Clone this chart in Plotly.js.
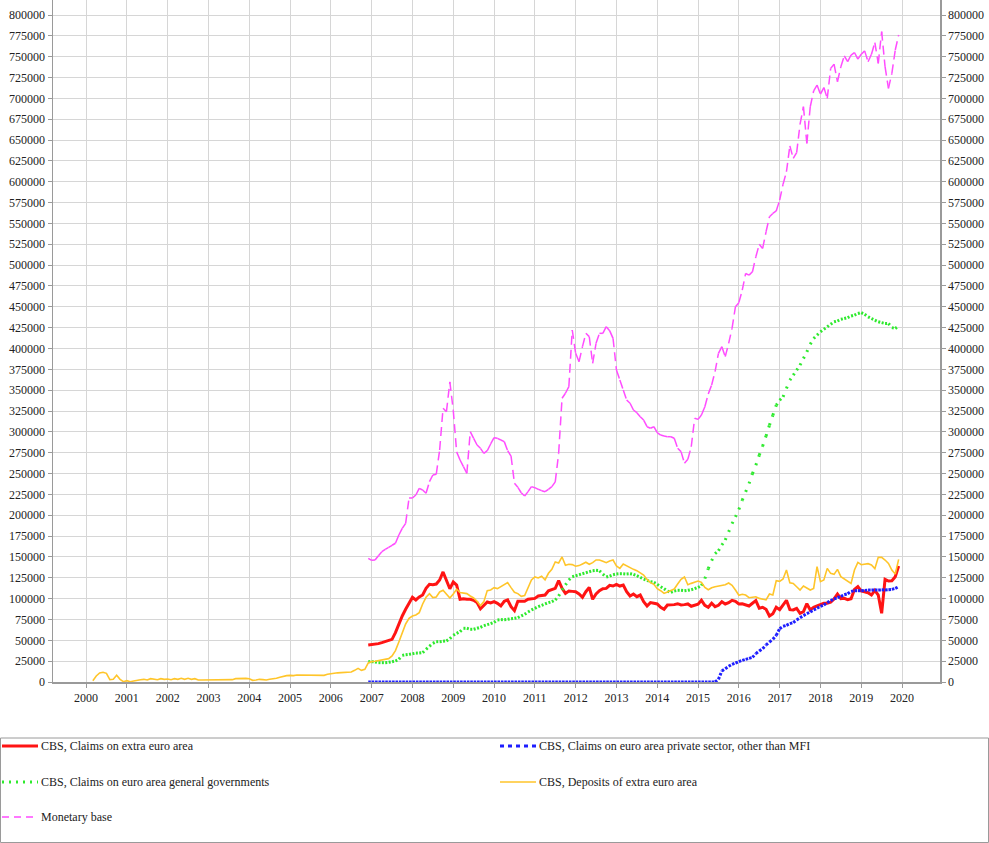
<!DOCTYPE html>
<html><head><meta charset="utf-8">
<script src="https://cdn.plot.ly/plotly-3.0.1.min.js"></script>
<style>html,body{margin:0;padding:0;background:#fff}#chart{width:989px;height:843px}</style>
</head><body><div id="chart"></div>
<script>
// Series names
const nameClaimsExtra = "CBS, Claims on extra euro area";
const namePrivate = "CBS, Claims on euro area private sector, other than MFI";
const nameGov = "CBS, Claims on euro area general governments";
const nameDeposits = "CBS, Deposits of extra euro area";
const nameMonetary = "Monetary base";

// First month [year, month] of each series (monthly data)
const cbsStart = [2006, 12];
const depositsStart = [2000, 3];

// Values in thousands, monthly
const claimsExtra = [
 44.4, 44.8, 45.6, 46, 47.2, 48.4, 50, 51.2, 59.2, 69.6, 79.2, 87.2,
 95.2, 101.6, 98.4, 102, 104.3, 112.3, 117.1, 116.7, 117.5, 122.3, 132, 121.5,
 111.9, 119.9, 116.3, 99.2, 99.9, 99.2, 99.2, 98, 95.2, 87.9, 92.4, 96,
 94.8, 96.3, 94.4, 91.2, 96.8, 98.4, 90.4, 85.6, 96.8, 97.2, 96.8, 99.2,
 99.6, 100.3, 103.1, 103.5, 104.3, 109.5, 111.1, 112.3, 121.5, 112.3, 106.3, 109.1,
 108.7, 108.3, 105.5, 101.6, 108.3, 113.5, 99.2, 105.5, 109.5, 111.9, 112.3, 116,
 115.1, 117.1, 115.1, 116.3, 108.3, 103.1, 105.5, 102.3, 104.3, 96.3, 91.2, 95.2,
 94.4, 93.6, 89.6, 87.2, 92.4, 92.4, 92.8, 93.9, 92.4, 92.8, 93.6, 90.8,
 92.4, 93.2, 98, 92, 89.6, 94.4, 90.4, 92, 96.3, 93.6, 95.2, 98,
 96.8, 93.6, 93.9, 92.8, 91.2, 94.4, 97.6, 88.4, 89.6, 87.2, 79.2, 81.9,
 89.6, 86.8, 92, 98, 86.8, 86.4, 88.4, 82.4, 84.4, 93.9, 86.4, 89.6,
 91.2, 92.4, 94.4, 94.4, 95.6, 99.6, 105.5, 99.9, 100.3, 98.8, 99.9, 111.1,
 114.3, 109.1, 108.3, 107.1, 104.3, 110, 104.3, 82.4, 123.1, 121.1, 121.5, 126.3, 139.1
];
const claimsPrivate = [
 0, 0, 0, 0, 0, 0, 0, 0, 0, 0, 0, 0,
 0, 0, 0, 0, 0, 0, 0, 0, 0, 0, 0, 0,
 0, 0, 0, 0, 0, 0, 0, 0, 0, 0, 0, 0,
 0, 0, 0, 0, 0, 0, 0, 0, 0, 0, 0, 0,
 0, 0, 0, 0, 0, 0, 0, 0, 0, 0, 0, 0,
 0, 0, 0, 0, 0, 0, 0, 0, 0, 0, 0, 0,
 0, 0, 0, 0, 0, 0, 0, 0, 0, 0, 0, 0,
 0, 0, 0, 0, 0, 0, 0, 0, 0, 0, 0, 0,
 0, 0, 0, 0, 0, 0, 0, 3.2, 13.2, 16, 18.8, 21.2,
 22.8, 24.4, 26, 27.2, 28.4, 29.6, 34, 37.2, 40, 44.4, 48, 51.2,
 56, 64, 66.8, 68, 70, 71.2, 74.5, 77.1, 79.6, 82, 84, 86.4,
 88.4, 90.8, 92.4, 95.2, 97.6, 99.6, 101.1, 102.7, 104.7, 105.9, 108.7, 109.5,
 109.5, 109.5, 109.9, 110.3, 110.3, 110.4, 110.3, 110.5, 110.4, 110.7, 111.1, 112.3, 114.3
];
const claimsGov = [
 24.4, 24.4, 24, 23.2, 23.2, 23.2, 23.6, 24.4, 25.2, 27.2, 31.9, 32.7,
 33.1, 33.9, 34.7, 34.7, 35.2, 39.2, 42.8, 46.4, 48.4, 48.4, 48.8, 49.2,
 52, 56, 58.4, 60.4, 64.4, 64.4, 63.2, 63.2, 64.4, 65.6, 67.6, 68.8,
 70, 71.6, 74.4, 74.8, 74.8, 75.2, 76, 76.4, 77.2, 79.2, 81.2, 84,
 86.4, 88.4, 90.4, 92, 93.6, 95.2, 96.4, 98.4, 103.2, 110.4, 116.4, 122.3,
 126.3, 127.5, 128.7, 129.9, 131.1, 132.3, 133.5, 133.9, 133.5, 129.5, 125.9, 127.1,
 128.7, 129.5, 129.9, 129.9, 129.5, 129.9, 129.1, 127.5, 125.5, 123.5, 121.9, 120.3,
 119.5, 117.1, 114.3, 111.9, 109.1, 107.5, 109.1, 110, 110, 109.5, 110, 110.7,
 111.9, 113.5, 115.5, 124, 136, 145.5, 154, 157.5, 164.3, 170.3, 180, 190,
 198, 207, 218, 228, 238, 250, 260, 272, 283, 295, 308, 320,
 332, 338, 342, 352, 362, 368, 374, 380, 388, 396, 405, 412,
 416, 420, 423, 426, 429, 432, 433, 435, 436, 437, 439, 440,
 442, 443, 441, 438, 436, 434, 432, 431, 430, 430, 425, 424, 427
];
const depositsExtra = [
 1.6, 7.2, 10.8, 11.6, 10.4, 2.8, 3.2, 8, 3.2, 0.4,
 1.6, 0.4, 1.2, 2.4, 2.8, 3.2, 2.4, 4, 3.2, 2.8, 4, 3.2,
 3.6, 2.8, 4, 3.2, 4.4, 3.2, 4.4, 3.2, 4, 2.4, 2.4, 2.5,
 2.4, 2.3, 2.4, 2.4, 2.5, 2.4, 2.4, 2.8, 4, 4.4, 4.4, 4.4,
 4, 2, 2.4, 3.2, 2.8, 2.4, 3.2, 3.6, 4.4, 5.6, 6.8, 7.6,
 8, 7.6, 8.4, 8.4, 8.4, 8.4, 7.6, 8, 7.6, 7.6, 8, 9.2,
 10, 10.5, 11, 11.2, 11.2, 11.2, 12, 14, 16.4, 14, 15.2, 22.8,
 24.4, 24.8, 25.6, 26.4, 26.8, 28, 31.2, 37.6, 48, 59.2, 69.6, 76.4,
 79.2, 80.4, 83.2, 93.6, 101.6, 106, 101.2, 102, 108, 110, 104.8, 100.8,
 105.6, 111.2, 107.2, 106.4, 106, 103.2, 100.8, 96.8, 91.6, 96.4, 109.6, 110.4,
 113.2, 112, 114.4, 117.2, 119.2, 113.2, 107.6, 106, 102.8, 103.6, 112, 122.4,
 126, 124.8, 126.8, 122.4, 130.4, 135.2, 144, 142.8, 150, 140, 141.2, 140.8,
 138.8, 139.6, 141.6, 143.6, 141.2, 143.2, 146.4, 146.4, 144.8, 143.1, 145.1, 146.3,
 139.1, 136.3, 141.5, 139.1, 137.5, 135.1, 133.5, 131.1, 128.3, 123.1, 119.1, 117.1,
 111.9, 109.5, 106.3, 108, 109.5, 111.5, 117.5, 123.1, 125.9, 116.7, 118.3, 119.5,
 121.1, 119.5, 113.5, 110.7, 113.1, 114.3, 115.1, 116.3, 116.7, 118.7, 116, 110.3,
 104, 105.2, 104.3, 101.1, 101.6, 102.3, 100.3, 99.2, 98.4, 105.5, 104.3, 121.5,
 120.7, 123.5, 134.3, 119.1, 118.3, 114.3, 110.3, 115.1, 112.5, 110.3, 112.3, 138.3,
 120.3, 122.3, 136.3, 130.3, 129.1, 135.1, 126.3, 123.9, 121.5, 118.3, 134.3, 143.5,
 140.7, 141.5, 141.9, 140.3, 136, 149.5, 149.5, 146.3, 142.3, 134.3, 129.5, 147.1
];
const monetaryBase = [
 148.3, 145.9, 146.3, 151.5, 156.3, 159.1, 161.5, 164, 166.4, 176.3, 184.3, 190.3,
 220.7, 220.7, 224.3, 232.3, 230.3, 226.3, 240.3, 248.3, 249.1, 278.3, 328.3, 324.2,
 360, 326, 276, 266.3, 258.3, 250.3, 300.2, 292.3, 284.3, 280.3, 274.3, 277.4,
 285.5, 293, 292.3, 290.3, 288.3, 277.4, 271, 238.3, 233.5, 227, 223.1, 228.3,
 234.3, 233.1, 231.1, 229.5, 228.3, 231.1, 234.3, 240, 274.3, 340.3, 346.3, 354.2,
 422.2, 394.2, 384.2, 402.2, 418.2, 414.2, 382.2, 406.2, 418.2, 418.2, 426.2, 421.4,
 412.2, 374.2, 362.2, 350.2, 338.2, 334.3, 326.2, 323, 318.2, 314.2, 306.2, 304.3,
 306.2, 299, 296.2, 295, 294.2, 294.2, 292.3, 280.3, 276.3, 262.3, 267.1, 282.2,
 316.3, 315, 320.2, 330.2, 345.4, 356.2, 372.2, 394.2, 402.2, 390.2, 406.2, 424.2,
 450.1, 455, 470, 490, 488, 492, 510, 525, 520, 540, 558, 562,
 565, 578, 597, 612, 643, 628, 635, 669, 690, 646, 690, 709,
 716, 705, 713, 700, 736, 741, 720, 738, 751, 744, 752, 755,
 747, 753, 757, 744, 753, 767, 742, 780, 738, 712, 730, 758, 776
];

// Axis ticks
const yearTicks = [2000, 2001, 2002, 2003, 2004, 2005, 2006, 2007, 2008, 2009, 2010,
                   2011, 2012, 2013, 2014, 2015, 2016, 2017, 2018, 2019, 2020];

function monthX(start, n) {
  const y = start[0], m = start[1];
  return Array.from({length: n}, (_, i) => y + (m - 1 + i) / 12);
}
// split a series into one sub-path per month so the dash pattern restarts each month
function perSegment(xs, ys) {
  const X = [], Y = [];
  for (let i = 0; i < xs.length - 1; i++) {
    X.push(xs[i], xs[i + 1], null);
    Y.push(ys[i], ys[i + 1], null);
  }
  return {X, Y};
}
const K = v => v * 1000;

const xCbs = monthX(cbsStart, claimsExtra.length);
const xDep = monthX(depositsStart, depositsExtra.length);

const colRed = '#ff1414', colBlue = '#1e1eff', colGreen = '#2eea2e', colYellow = '#ffc52a', colMag = '#ff4cff';

const segBlue = perSegment(xCbs, claimsPrivate.map(K));
const segGreen = perSegment(xCbs, claimsGov.map(K));
const segMag = perSegment(xCbs, monetaryBase.map(K));

const traces = [
  {x: xCbs, y: claimsExtra.map(K), name: nameClaimsExtra, mode: 'lines',
   line: {color: colRed, width: 3}},
  {x: segBlue.X, y: segBlue.Y, name: namePrivate, mode: 'lines', connectgaps: false,
   line: {color: colBlue, width: 3, dash: '2.6px,1.6px'}},
  {x: segGreen.X, y: segGreen.Y, name: nameGov, mode: 'lines', connectgaps: false,
   line: {color: colGreen, width: 3, dash: '2px,7px'}},
  {x: xDep, y: depositsExtra.map(K), name: nameDeposits, mode: 'lines',
   line: {color: colYellow, width: 1.6}},
  {x: segMag.X, y: segMag.Y, name: nameMonetary, mode: 'lines', connectgaps: false,
   line: {color: colMag, width: 1.5, dash: '9px,5px'}},
  {x: xCbs, y: claimsExtra.map(K), yaxis: 'y2', mode: 'lines', opacity: 0,
   hoverinfo: 'skip', showlegend: false, line: {width: 1}}
];

// geometry helpers for the hand-built legend (pixel -> paper)
const ML = 53, MR = 49, MT = 0, MB = 161, W = 989, H = 843;
const PW = W - ML - MR, PH = H - MT - MB;
const px = x => (x - ML) / PW;
const py = y => (H - MB - y) / PH;

const legendItems = [
  {name: nameClaimsExtra, color: colRed, width: 3, dash: 'solid', col: 0, row: 0},
  {name: namePrivate, color: colBlue, width: 3, dash: '4px,4px', col: 1, row: 0},
  {name: nameGov, color: colGreen, width: 3, dash: '2px,5px', col: 0, row: 1},
  {name: nameDeposits, color: colYellow, width: 1.6, dash: 'solid', col: 1, row: 1},
  {name: nameMonetary, color: colMag, width: 1.5, dash: '7px,5px', col: 0, row: 2}
];
const colX = [2, 500], rowY = [746, 782, 817], sampleLen = 36;

const shapes = [{
  type: 'rect', xref: 'paper', yref: 'paper',
  x0: px(0.5), x1: px(988.5), y0: py(738), y1: py(842.5),
  line: {color: '#9a9a9a', width: 1}, fillcolor: 'rgba(0,0,0,0)'
}];
const annotations = [];
legendItems.forEach(it => {
  const x0 = colX[it.col], y = rowY[it.row];
  shapes.push({type: 'line', xref: 'paper', yref: 'paper',
    x0: px(x0), x1: px(x0 + sampleLen), y0: py(y), y1: py(y),
    line: {color: it.color, width: it.width, dash: it.dash}});
  annotations.push({xref: 'paper', yref: 'paper', x: px(x0 + sampleLen + 1), y: py(y),
    xanchor: 'left', yanchor: 'middle', showarrow: false, text: it.name,
    font: {size: 12, color: '#222'}});
});

const axisCommon = {
  showline: true, linecolor: '#9a9a9a', linewidth: 1.5, zeroline: false,
  ticks: 'outside', ticklen: 4, tickcolor: '#9a9a9a', tickwidth: 1,
  tickfont: {size: 12, color: '#222'}
};

const layout = {
  width: W, height: H,
  margin: {l: ML, r: MR, t: MT, b: MB, pad: 0},
  paper_bgcolor: '#ffffff', plot_bgcolor: '#ffffff',
  font: {family: '"Liberation Serif", "DejaVu Serif", serif', size: 12, color: '#222'},
  showlegend: false,
  xaxis: Object.assign({}, axisCommon, {
    range: [1999.19, 2020.93], tickmode: 'array', tickvals: yearTicks,
    ticktext: yearTicks.map(String), showgrid: true, gridcolor: '#d6d6d6', gridwidth: 1
  }),
  yaxis: Object.assign({}, axisCommon, {
    range: [0, 818000], tick0: 0, dtick: 25000, tickformat: 'd',
    showgrid: true, gridcolor: '#d6d6d6', gridwidth: 1
  }),
  yaxis2: Object.assign({}, axisCommon, {
    overlaying: 'y', side: 'right', matches: 'y',
    range: [0, 818000], tick0: 0, dtick: 25000, tickformat: 'd', showgrid: false
  }),
  shapes: shapes,
  annotations: annotations
};

Plotly.newPlot('chart', traces, layout, {displayModeBar: false, staticPlot: true});
</script>
</body></html>
